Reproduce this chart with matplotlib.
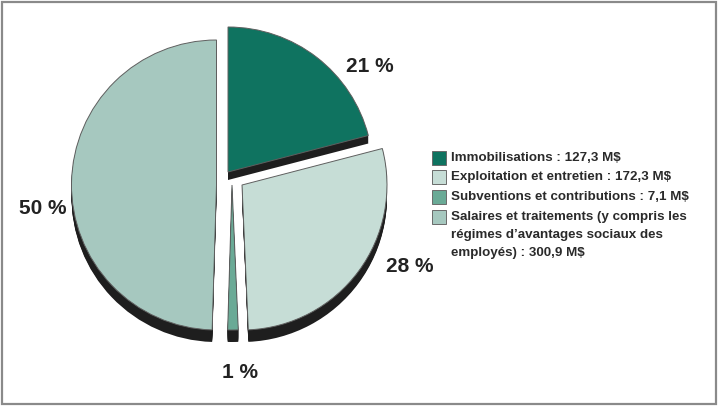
import matplotlib
matplotlib.use("Agg")
import matplotlib.pyplot as plt
from matplotlib.patches import Wedge, Rectangle

W, H = 719, 408

# data
categories = [
    "Immobilisations : 127,3 M$",
    "Exploitation et entretien : 172,3 M$",
    "Subventions et contributions : 7,1 M$",
    "Salaires et traitements (y compris les\nrégimes d\u2019avantages sociaux des\nemployés) : 300,9 M$",
]
values = [127.3, 172.3, 7.1, 300.9]
pct_labels = ["21 %", "28 %", "1 %", "50 %"]

# style / layout (pixel coords, y down)
colors = ["#0f7360", "#c6ddd6", "#6aaa96", "#a6c8bf"]
centers = [(228, 172), (242, 185), (232, 185), (216.5, 185)]
depths = [8, 12, 12, 12]
label_pos = [(370, 67), (410, 267), (240, 372), (43, 209)]
radius = 145

plt.rcParams["font.family"] = ["Liberation Sans", "DejaVu Sans"]

fig = plt.figure(figsize=(W / 100, H / 100), dpi=100)
ax = fig.add_axes([0, 0, 1, 1])
ax.set_xlim(0, W)
ax.set_ylim(0, H)
ax.axis("off")


def py(y):
    return H - y


total = sum(values)
angles = []
start = 90.0
for v in values:
    sweep = 360.0 * v / total
    angles.append((start - sweep, start))
    start -= sweep

# extruded black sides
for (cx, cy), (t1, t2), d in zip(centers, angles, depths):
    for k in range(1, d + 1):
        ax.add_patch(Wedge((cx, py(cy + k)), radius, t1, t2,
                           facecolor="#1e1e1e", edgecolor="none"))

# top faces
for (cx, cy), (t1, t2), c in zip(centers, angles, colors):
    ax.add_patch(Wedge((cx, py(cy)), radius, t1, t2, facecolor=c,
                       edgecolor="#5f5f5f", linewidth=0.7))

for (lx, ly), t in zip(label_pos, pct_labels):
    ax.text(lx, py(ly), t, ha="center", va="center", fontsize=15,
            fontweight="bold", color="#222222")

# legend
row_y = [158, 177, 197, 217]
for y, c, lab in zip(row_y, colors, categories):
    ax.add_patch(Rectangle((431.5, py(y + 7)), 14, 14, facecolor=c,
                           edgecolor="#6a6a6a", linewidth=0.7))
    ax.text(451, py(y - 6), lab, ha="left", va="top", fontsize=9.6,
            fontweight="bold", color="#2a2a2a", linespacing=1.68)

# outer frame
ax.add_patch(Rectangle((2, py(404)), 714, 402, facecolor="none",
                       edgecolor="#8a8a8a", linewidth=1.6))

fig.savefig("out.png", dpi=100)
